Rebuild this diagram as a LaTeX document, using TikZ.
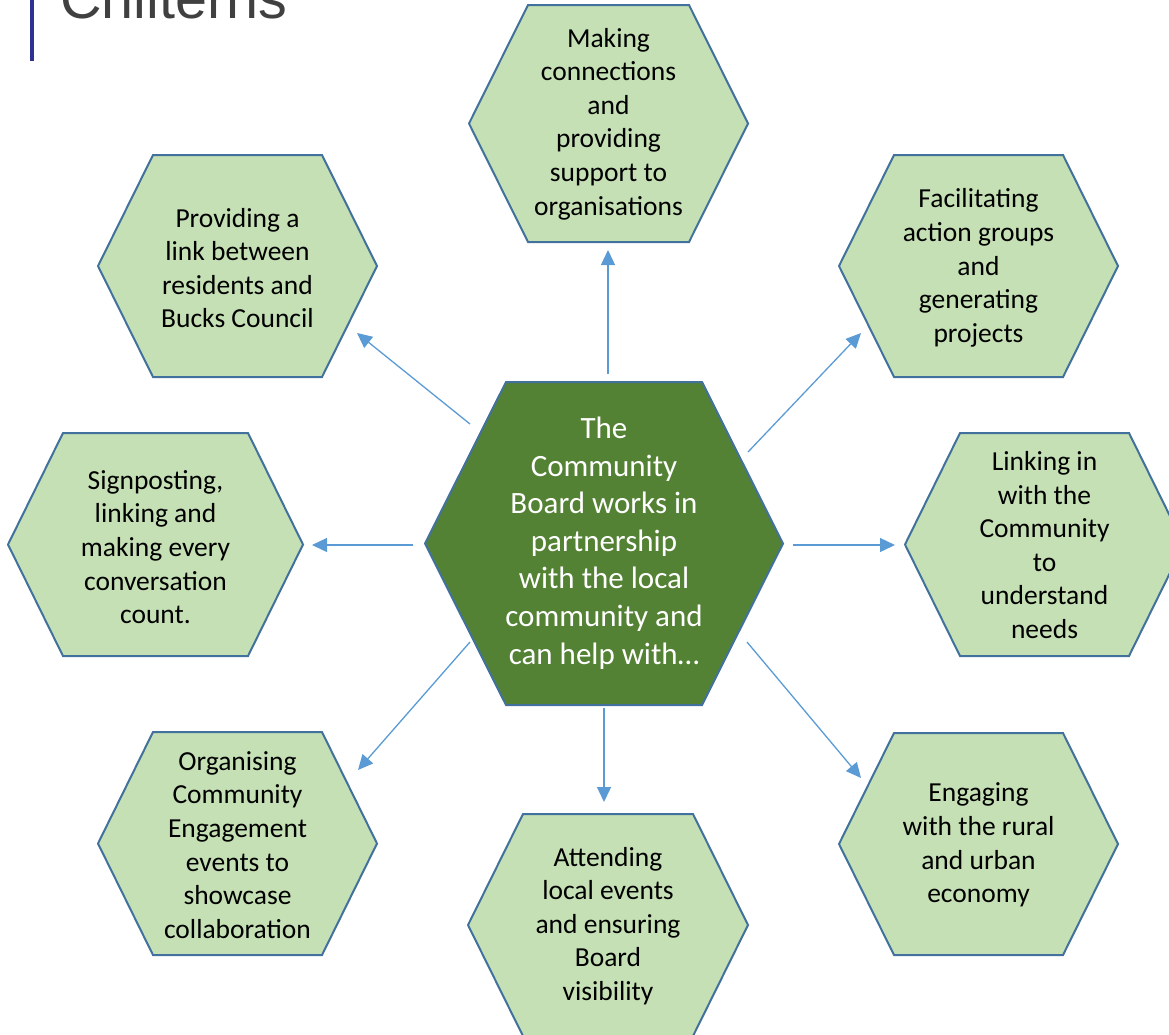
\documentclass[tikz,border=0pt]{standalone}
\usepackage{fontspec}
\setmainfont{Carlito}
\newfontfamily\titlefont{Liberation Sans}
\usetikzlibrary{arrows.meta}
\definecolor{hexfill}{RGB}{197,224,180}
\definecolor{hexline}{RGB}{65,113,156}
\definecolor{ctrfill}{RGB}{84,130,53}
\definecolor{arrcol}{RGB}{91,155,213}
\definecolor{barcol}{RGB}{46,49,146}
\definecolor{titlecol}{RGB}{64,64,64}
\newcommand{\hexshape}[6]{% style, left, top, right, bottom, inset
  \path[#1] (#2,{(#3+#5)/2}) -- ({#2+#6},#3) -- ({#4-#6},#3) -- (#4,{(#3+#5)/2})
    -- ({#4-#6},#5) -- ({#2+#6},#5) -- cycle;}
\tikzset{
  greenhex/.style={fill=hexfill, draw=hexline, line width=2pt, line join=miter},
  centrehex/.style={fill=ctrfill, draw=hexline, line width=2pt, line join=miter},
  hextext/.style={align=center, text=black, font=\fontsize{27.5}{33.6}\selectfont},
  centretext/.style={align=center, text=white, font=\fontsize{31}{37.6}\selectfont},
  arr/.style={draw=arrcol, line width=1.3pt, -{Triangle[length=15pt,width=14pt]}}
}
\begin{document}
\begin{tikzpicture}[x=1pt,y=-1pt]
\useasboundingbox (0,0) rectangle (1169,1034);
\clip (0,0) rectangle (1169,1034);
% title
\draw[barcol, line width=4.5pt] (32,0) -- (32,61);
\node[anchor=base west, inner sep=0pt, text=titlecol, font=\titlefont\fontsize{57.5}{60}\selectfont] (title) at (60,18) {Chilterns};
% hexagons
\hexshape{centrehex}{425}{382}{783}{705}{81}
\hexshape{greenhex}{469}{5}{748}{242}{59}
\hexshape{greenhex}{98}{155}{377}{377}{55}
\hexshape{greenhex}{839}{155}{1118}{377}{55}
\hexshape{greenhex}{8}{433}{303}{656}{55}
\hexshape{greenhex}{905}{433}{1184}{656}{55}
\hexshape{greenhex}{98}{732}{377}{955}{55}
\hexshape{greenhex}{468}{814}{748}{1036}{55}
\hexshape{greenhex}{839}{733}{1118}{955}{55}
% texts
\node[centretext] (ctr) at (604,543) {The\\Community\\Board works in\\partnership\\with the local\\community and\\can help with…};
\node[hextext] (top) at (608.5,124) {Making\\connections\\and\\providing\\support to\\organisations};
\node[hextext] (tl) at (237.5,268) {Providing a\\link between\\residents and\\Bucks Council};
\node[hextext] (tr) at (978.5,268) {Facilitating\\action groups\\and\\generating\\projects};
\node[hextext] (l) at (155.5,547) {Signposting,\\linking and\\making every\\conversation\\count.};
\node[hextext] (r) at (1044.5,545) {Linking in\\with the\\Community\\to\\understand\\needs};
\node[hextext] (bl) at (237.5,845) {Organising\\Community\\Engagement\\events to\\showcase\\collaboration};
\node[hextext] (b) at (608,926) {Attending\\local events\\and ensuring\\Board\\visibility};
\node[hextext] (br) at (978.5,845) {Engaging\\with the rural\\and urban\\economy};
% arrow ends
\coordinate (aUs) at (608,374); \coordinate (aUe) at (608,250);
\coordinate (aDs) at (604,708); \coordinate (aDe) at (604,802);
\coordinate (aULs) at (470,424); \coordinate (aULe) at (357,333);
\coordinate (aURs) at (748,452); \coordinate (aURe) at (861,333);
\coordinate (aLs) at (413,545); \coordinate (aLe) at (312,545);
\coordinate (aRs) at (793,545); \coordinate (aRe) at (895,545);
\coordinate (aDLs) at (470,642); \coordinate (aDLe) at (358,770);
\coordinate (aDRs) at (747,642); \coordinate (aDRe) at (861,778);
\draw[arr] (aUs) -- (aUe);
\draw[arr] (aDs) -- (aDe);
\draw[arr] (aULs) -- (aULe);
\draw[arr] (aURs) -- (aURe);
\draw[arr] (aLs) -- (aLe);
\draw[arr] (aRs) -- (aRe);
\draw[arr] (aDLs) -- (aDLe);
\draw[arr] (aDRs) -- (aDRe);
\end{tikzpicture}
\end{document}
